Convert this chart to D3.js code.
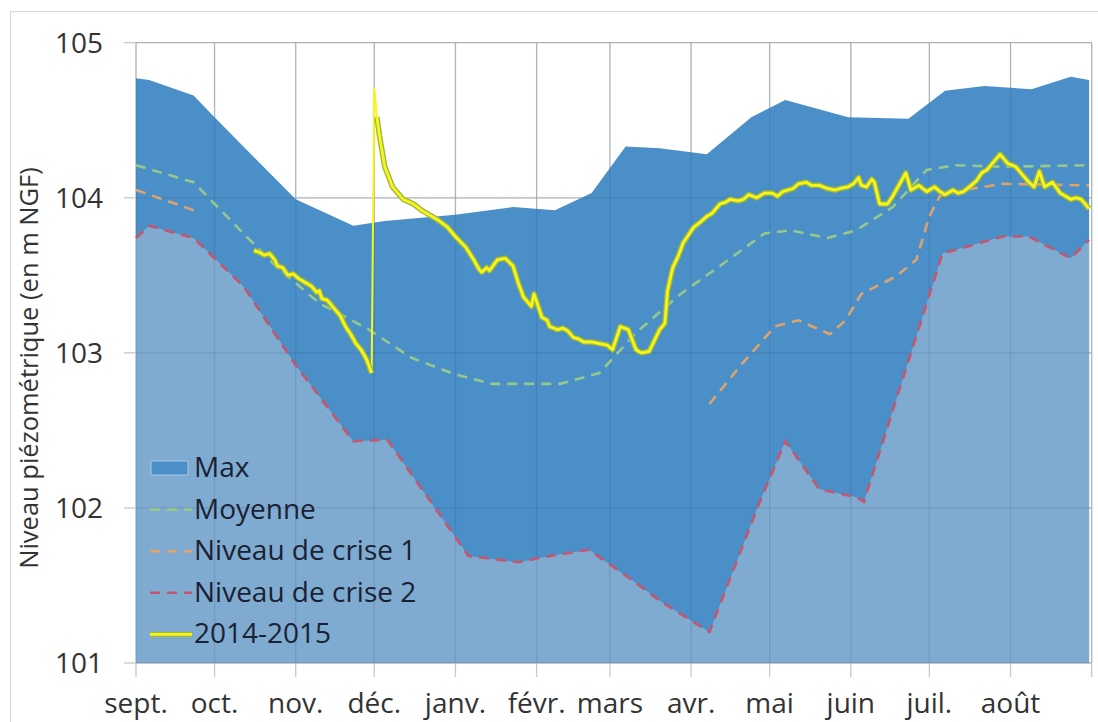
<!DOCTYPE html>
<html>
<head>
<meta charset="utf-8">
<script src="https://cdn.jsdelivr.net/npm/d3@7"></script>
<style>
  html, body { margin: 0; padding: 0; background: #fff; }
  svg { display: block; font-family: "Open Sans", Lato, sans-serif; }
</style>
</head>
<body>
<svg id="chart" width="1098" height="722"></svg>
<script>
// ---------- DATA ----------
const monthLabels = ["sept.", "oct.", "nov.", "déc.", "janv.", "févr.", "mars", "avr.", "mai", "juin", "juil.", "août"];
const monthStarts = ["2014-09-01","2014-10-01","2014-11-01","2014-12-01","2015-01-01","2015-02-01","2015-03-01","2015-04-01","2015-05-01","2015-06-01","2015-07-01","2015-08-01"];
const yTicks = [101, 102, 103, 104, 105];

const maxSeries = [
  ["2014-09-01",104.77],["2014-09-06",104.76],["2014-09-23",104.66],["2014-10-01",104.52],
  ["2014-10-12",104.33],["2014-11-01",103.99],["2014-11-23",103.82],["2014-12-05",103.85],
  ["2015-01-01",103.89],["2015-01-23",103.94],["2015-02-08",103.92],["2015-02-22",104.03],
  ["2015-03-07",104.33],["2015-03-20",104.32],["2015-04-07",104.28],["2015-04-24",104.52],
  ["2015-05-07",104.63],["2015-05-31",104.52],["2015-06-23",104.51],["2015-07-07",104.69],
  ["2015-07-22",104.72],["2015-08-09",104.70],["2015-08-24",104.78],["2015-08-31",104.76]
];

const crise2Series = [
  ["2014-09-01",103.74],["2014-09-06",103.82],["2014-09-23",103.74],["2014-10-12",103.43],
  ["2014-11-01",102.92],["2014-11-23",102.43],["2014-12-06",102.44],["2015-01-06",101.69],
  ["2015-01-25",101.65],["2015-02-06",101.69],["2015-02-21",101.73],["2015-03-09",101.54],
  ["2015-03-21",101.39],["2015-04-08",101.20],["2015-04-27",102.03],["2015-05-07",102.43],
  ["2015-05-20",102.12],["2015-06-03",102.07],["2015-06-06",102.04],["2015-07-06",103.64],
  ["2015-07-29",103.75],["2015-08-08",103.75],["2015-08-24",103.61],["2015-08-31",103.73]
];

const moyenneSeries = [
  ["2014-09-01",104.21],["2014-09-23",104.10],["2014-10-12",103.77],["2014-10-25",103.55],
  ["2014-11-10",103.32],["2014-11-28",103.16],["2014-12-15",102.97],["2015-01-01",102.86],
  ["2015-01-15",102.80],["2015-02-10",102.80],["2015-02-25",102.87],["2015-03-11",103.13],
  ["2015-03-28",103.38],["2015-04-12",103.56],["2015-04-29",103.77],["2015-05-09",103.79],
  ["2015-05-23",103.74],["2015-06-03",103.79],["2015-06-17",103.94],["2015-06-30",104.18],
  ["2015-07-11",104.21],["2015-07-29",104.20],["2015-08-31",104.21]
];

const crise1Series = [
  ["2014-09-01",104.05],["2014-09-23",103.92],["2014-09-24",null],
  ["2015-04-07",null],["2015-04-08",102.67],["2015-04-20",102.92],["2015-05-03",103.17],
  ["2015-05-12",103.21],["2015-05-24",103.12],["2015-05-30",103.21],["2015-06-05",103.38],
  ["2015-06-18",103.49],["2015-06-26",103.60],["2015-07-01",103.88],["2015-07-05",104.01],
  ["2015-07-14",104.05],["2015-07-29",104.09],["2015-08-31",104.08]
];

const niveau2014a = [
  ["2014-10-16",103.66],["2014-10-18",103.65],["2014-10-20",103.63],["2014-10-22",103.64],
  ["2014-10-24",103.60],["2014-10-25",103.56],["2014-10-27",103.55],["2014-10-29",103.50],
  ["2014-10-31",103.51],["2014-11-02",103.48],["2014-11-04",103.46],["2014-11-07",103.43],
  ["2014-11-09",103.39],["2014-11-10",103.40],["2014-11-11",103.35],["2014-11-13",103.34],
  ["2014-11-15",103.30],["2014-11-18",103.24],["2014-11-20",103.17],["2014-11-22",103.12],
  ["2014-11-24",103.06],["2014-11-26",103.02],["2014-11-28",102.96],["2014-11-30",102.87]
];

const niveau2014b = [
  ["2014-12-01",104.71],["2014-12-02",104.52],["2014-12-03",104.40],["2014-12-05",104.20],
  ["2014-12-08",104.07],["2014-12-12",103.99],["2014-12-16",103.96],["2014-12-19",103.92],
  ["2014-12-25",103.86],["2014-12-29",103.81],["2015-01-01",103.75],["2015-01-05",103.68],
  ["2015-01-08",103.60],["2015-01-10",103.54],["2015-01-11",103.52],["2015-01-13",103.55],
  ["2015-01-14",103.53],["2015-01-17",103.60],["2015-01-20",103.61],["2015-01-23",103.56],
  ["2015-01-25",103.45],["2015-01-27",103.36],["2015-01-30",103.30],["2015-01-31",103.38],
  ["2015-02-02",103.28],["2015-02-03",103.23],["2015-02-05",103.21],["2015-02-06",103.17],
  ["2015-02-09",103.15],["2015-02-11",103.16],["2015-02-13",103.14],["2015-02-15",103.10],
  ["2015-02-17",103.09],["2015-02-19",103.07],["2015-02-22",103.07],["2015-02-25",103.06],
  ["2015-02-28",103.05],["2015-03-02",103.02],["2015-03-05",103.17],["2015-03-08",103.15],
  ["2015-03-11",103.02],["2015-03-13",103.00],["2015-03-16",103.01],["2015-03-20",103.15],
  ["2015-03-22",103.19],["2015-03-23",103.40],["2015-03-25",103.55],["2015-03-27",103.62],
  ["2015-03-29",103.71],["2015-04-02",103.81],["2015-04-05",103.85],["2015-04-07",103.88],
  ["2015-04-09",103.90],["2015-04-12",103.96],["2015-04-14",103.97],["2015-04-16",103.99],
  ["2015-04-19",103.98],["2015-04-21",103.99],["2015-04-23",104.02],["2015-04-26",104.00],
  ["2015-04-29",104.03],["2015-05-02",104.03],["2015-05-04",104.01],["2015-05-06",104.04],
  ["2015-05-08",104.05],["2015-05-10",104.06],["2015-05-12",104.09],["2015-05-15",104.10],
  ["2015-05-17",104.08],["2015-05-20",104.08],["2015-05-23",104.06],["2015-05-26",104.05],
  ["2015-05-28",104.06],["2015-05-31",104.07],["2015-06-02",104.09],["2015-06-04",104.13],
  ["2015-06-05",104.08],["2015-06-07",104.07],["2015-06-09",104.12],["2015-06-10",104.10],
  ["2015-06-12",103.96],["2015-06-15",103.96],["2015-06-17",104.01],["2015-06-19",104.07],
  ["2015-06-22",104.16],["2015-06-24",104.05],["2015-06-27",104.08],["2015-06-30",104.04],
  ["2015-07-03",104.07],["2015-07-05",104.04],["2015-07-07",104.02],["2015-07-10",104.05],
  ["2015-07-12",104.03],["2015-07-14",104.04],["2015-07-17",104.08],["2015-07-19",104.11],
  ["2015-07-21",104.16],["2015-07-23",104.18],["2015-07-25",104.22],["2015-07-28",104.28],
  ["2015-07-31",104.22],["2015-08-03",104.20],["2015-08-06",104.14],["2015-08-08",104.10],
  ["2015-08-10",104.07],["2015-08-12",104.17],["2015-08-14",104.07],["2015-08-17",104.10],
  ["2015-08-20",104.03],["2015-08-22",104.01],["2015-08-24",103.99],["2015-08-26",104.00],
  ["2015-08-28",103.99],["2015-08-31",103.93]
];

const legendLabels = ["Max", "Moyenne", "Niveau de crise 1", "Niveau de crise 2", "2014-2015"];

// ---------- STYLE ----------
const colMax = "#4b8fc8";
const colLow = "#7fabd1";
const colMoy = "#97c88b";
const colC1 = "#dca46c";
const colC2 = "#c4566e";
const colYel = "#f6f61c";
const colYelEdge = "#9fb83c";

// ---------- SETUP ----------
const parse = d3.timeParse("%Y-%m-%d");
const toPts = arr => arr.map(([d, v]) => ({ date: parse(d), value: v }));

const svg = d3.select("#chart");
const plot = { left: 136, right: 1091.7, top: 42.7, bottom: 663 };

const x = d3.scaleTime()
  .domain([parse("2014-09-01"), parse("2015-09-01")])
  .range([plot.left, plot.right]);
const y = d3.scaleLinear().domain([101, 105]).range([plot.bottom, plot.top]);

// outer chart border
svg.append("rect").attr("x", 10.5).attr("y", 11.5).attr("width", 1100).attr("height", 720)
  .attr("fill", "#fff").attr("stroke", "#d9d9d9").attr("stroke-width", 1);

const gridDates = monthStarts.map(parse).concat([parse("2015-09-01")]);

function drawGrid(g, color, opacity) {
  g.selectAll("line.v").data(gridDates).join("line").attr("class", "v")
    .attr("x1", d => x(d)).attr("x2", d => x(d))
    .attr("y1", plot.top).attr("y2", plot.bottom)
    .attr("stroke", color).attr("stroke-opacity", opacity).attr("stroke-width", 1.3);
  g.selectAll("line.h").data(yTicks).join("line").attr("class", "h")
    .attr("x1", plot.left).attr("x2", plot.right)
    .attr("y1", d => y(d)).attr("y2", d => y(d))
    .attr("stroke", color).attr("stroke-opacity", opacity).attr("stroke-width", 1.3);
}
drawGrid(svg.append("g"), "#c8c8c8", 1);

// areas
const area = d3.area().x(d => x(d.date)).y0(y(101)).y1(d => y(d.value));
svg.append("path").datum(toPts(maxSeries)).attr("d", area).attr("fill", colMax);
svg.append("path").datum(toPts(crise2Series)).attr("d", area).attr("fill", colLow);

// gridlines overlay (visible through the areas)
drawGrid(svg.append("g"), "#1c3f66", 0.14);

// axis ticks
svg.append("g").selectAll("line").data(gridDates).join("line")
  .attr("x1", d => x(d)).attr("x2", d => x(d))
  .attr("y1", plot.bottom).attr("y2", plot.bottom + 14)
  .attr("stroke", "#c8c8c8").attr("stroke-width", 1.3);
svg.append("g").selectAll("line").data(yTicks).join("line")
  .attr("x1", plot.left - 12).attr("x2", plot.left)
  .attr("y1", d => y(d)).attr("y2", d => y(d))
  .attr("stroke", "#c8c8c8").attr("stroke-width", 1.3);

// lines
const line = d3.line().defined(d => d.value !== null).x(d => x(d.date)).y(d => y(d.value));
svg.append("path").datum(toPts(moyenneSeries)).attr("d", line)
  .attr("fill", "none").attr("stroke", colMoy).attr("stroke-width", 2.6).attr("stroke-dasharray", "10,7");
svg.append("path").datum(toPts(crise1Series)).attr("d", line)
  .attr("fill", "none").attr("stroke", colC1).attr("stroke-width", 2.6).attr("stroke-dasharray", "10,7");
svg.append("path").datum(toPts(crise2Series)).attr("d", line)
  .attr("fill", "none").attr("stroke", colC2).attr("stroke-width", 2.6).attr("stroke-dasharray", "10,7");

// 2014-2015 line: two measured stretches joined by a thin connector
const ya = toPts(niveau2014a), yb = toPts(niveau2014b);
svg.append("path").datum([ya[ya.length - 1], yb[0], yb[1]]).attr("d", line)
  .attr("fill", "none").attr("stroke", colYel).attr("stroke-width", 2);
[ya, yb.slice(1)].forEach(seg => {
  svg.append("path").datum(seg).attr("d", line)
    .attr("fill", "none").attr("stroke", colYelEdge).attr("stroke-width", 5.5)
    .attr("stroke-linejoin", "round");
  svg.append("path").datum(seg).attr("d", line)
    .attr("fill", "none").attr("stroke", colYel).attr("stroke-width", 2.8)
    .attr("stroke-linejoin", "round");
});

// axis labels
svg.append("g").selectAll("text").data(monthStarts).join("text")
  .attr("x", d => x(parse(d))).attr("y", 713)
  .attr("text-anchor", "middle").attr("font-size", 28).attr("fill", "#333")
  .text((d, i) => monthLabels[i]);
svg.append("g").selectAll("text").data(yTicks).join("text")
  .attr("x", 103).attr("y", d => y(d) + 10)
  .attr("text-anchor", "end").attr("font-size", 28).attr("fill", "#333")
  .text(d => d);
svg.append("text")
  .attr("transform", "translate(38,368) rotate(-90)")
  .attr("text-anchor", "middle").attr("font-size", 25.5).attr("fill", "#333")
  .text("Niveau piézométrique (en m NGF)");

// legend
const lg = svg.append("g");
const rowY = i => 468 + i * 41.6;
legendLabels.forEach((lab, i) => {
  const cy = rowY(i);
  if (i === 0) {
    lg.append("rect").attr("x", 151).attr("y", cy - 7).attr("width", 37).attr("height", 14)
      .attr("fill", colMax).attr("stroke", "#a9c8e6").attr("stroke-width", 1);
  } else if (i < 4) {
    const c = [null, colMoy, colC1, colC2][i];
    lg.append("line").attr("x1", 150).attr("x2", 192).attr("y1", cy).attr("y2", cy)
      .attr("stroke", c).attr("stroke-width", 2.6).attr("stroke-dasharray", "10,7");
  } else {
    lg.append("line").attr("x1", 150).attr("x2", 192).attr("y1", cy).attr("y2", cy)
      .attr("stroke", colYelEdge).attr("stroke-width", 5);
    lg.append("line").attr("x1", 150).attr("x2", 192).attr("y1", cy).attr("y2", cy)
      .attr("stroke", colYel).attr("stroke-width", 2.6);
  }
  lg.append("text").attr("x", 194).attr("y", cy + 9)
    .attr("font-size", 28).attr("fill", "#1b2133").text(lab);
});
</script>
</body>
</html>
